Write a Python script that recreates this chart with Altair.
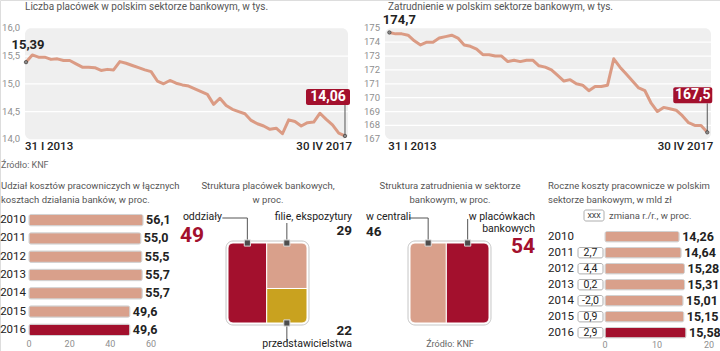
import altair as alt
import pandas as pd

# ---------------- data ----------------
placowki = [15.39, 15.52, 15.48, 15.48, 15.44, 15.45, 15.42, 15.42, 15.36, 15.30,
            15.30, 15.29, 15.24, 15.26, 15.25, 15.40, 15.37, 15.33, 15.29, 15.25,
            15.22, 15.05, 15.00, 15.06, 15.01, 14.98, 14.96, 14.91, 14.86, 14.81,
            14.63, 14.74, 14.61, 14.54, 14.50, 14.46, 14.34, 14.28, 14.24, 14.18,
            14.20, 14.10, 14.35, 14.32, 14.24, 14.30, 14.31, 14.47, 14.36, 14.26,
            14.11, 14.06]
zatrudnienie = [174.7, 174.6, 174.6, 174.5, 174.1, 173.8, 174.0, 174.0, 174.3, 174.4,
                174.5, 174.3, 173.8, 173.7, 173.5, 173.1, 173.1, 173.0, 173.0, 172.6,
                172.7, 172.6, 172.7, 172.7, 172.3, 172.2, 172.0, 171.6, 171.2, 171.3,
                171.0, 170.9, 170.5, 170.8, 170.8, 170.9, 172.8, 172.2, 171.7, 171.2,
                170.7, 170.5, 169.6, 169.0, 169.3, 169.2, 169.1, 168.7, 168.2, 168.0,
                168.0, 167.5]
okres = ["31 I 2013", "30 IV 2017"]
ticks_plac = [14.0, 14.5, 15.0, 15.5, 16.0]
ticks_zatr = [167, 168, 169, 170, 171, 172, 173, 174, 175]

lata = ["2010", "2011", "2012", "2013", "2014", "2015", "2016"]
udzial = [56.1, 55.0, 55.5, 55.7, 55.7, 49.6, 49.6]
koszty = [14.26, 14.64, 15.28, 15.31, 15.01, 15.15, 15.58]
zmiana = [None, 2.7, 4.4, 0.2, -2.0, 0.9, 2.9]
ticks_udzial = [0, 20, 40, 60]
ticks_koszty = [0, 10, 20]

plac_nazwy = ["oddziały", "filie, ekspozytury", "przedstawicielstwa"]
plac_udzial = [49, 29, 22]
zatr_nazwy = ["w centrali", "w placówkach", "bankowych"]
zatr_udzial = [46, 54]

tytuly = {
    "tl": "Liczba placówek w polskim sektorze bankowym, w tys.",
    "tr": "Zatrudnienie w polskim sektorze bankowym, w tys.",
    "bl": "Udział kosztów pracowniczych w łącznych\nkosztach działania banków, w proc.",
    "p2": "Struktura placówek bankowych,\nw proc.",
    "p3": "Struktura zatrudnienia w sektorze\nbankowym, w proc.",
    "br": "Roczne koszty pracownicze w polskim\nsektorze bankowym, w mld zł",
}
zrodlo = "Źródło: KNF"
legenda = ["XXX", "zmiana r./r., w proc."]

# ---------------- style ----------------
FONT = "Roboto"
LINE = "#DB9B84"
PINK = "#D9A08B"
RED = "#A3102D"
YELLOW = "#C9A21F"
BG = "#EFEFEF"
DARK = "#222222"
GREY = "#8f8f8f"
TITLE = "#555555"


def fmt(v, d):
    return f"{v:.{d}f}".replace(".", ",")


# ---------------- line panels ----------------
def line_panel(values, ticks, dec, xdom, xr, yr, start_off, end_box, end_txt, lab_dx):
    n = len(values)
    df = pd.DataFrame({"i": list(range(n)), "v": values})
    xs = alt.Scale(domain=xdom, range=xr, zero=False, nice=False)
    ys = alt.Scale(domain=[ticks[0], ticks[-1]], range=yr, zero=False, nice=False)

    def X(f):
        return alt.X(f, type="quantitative", scale=xs, axis=None)

    def Y(f):
        return alt.Y(f, type="quantitative", scale=ys, axis=None)

    bg = alt.Chart(pd.DataFrame({"x0": [xdom[0]], "x1": [xdom[1]],
                                 "y0": [ticks[0]], "y1": [ticks[-1]]})).mark_rect(
        color=BG, cornerRadius=6).encode(x=X("x0"), x2="x1", y=Y("y0"), y2="y1")
    tdf = pd.DataFrame({"t": ticks, "lab": [fmt(t, dec) for t in ticks],
                        "x0": xdom[0], "x1": xdom[1]})
    grid = alt.Chart(tdf.iloc[1:-1]).mark_rule(color="white", strokeWidth=1.2).encode(
        x=X("x0"), x2="x1", y=Y("t"))
    tlab = alt.Chart(tdf).mark_text(align="right", baseline="middle", fontSize=9.5,
                                    color=GREY, font=FONT).encode(
        x=alt.value(xr[0] - 5), y=Y("t"), text="lab")
    line = alt.Chart(df).mark_line(color=LINE, strokeWidth=3, strokeJoin="round",
                                   strokeCap="round").encode(x=X("i"), y=Y("v"))
    first = df.iloc[[0]].assign(lab=[fmt(values[0], 2 if dec == 1 else 1)], d=[okres[0]])
    last = df.iloc[[-1]].assign(lab=[fmt(values[-1], 2 if dec == 1 else 1)], d=[okres[1]])
    dots = alt.Chart(pd.concat([first, last])).mark_circle(
        size=12, color="#8a8a8a", stroke="#333", strokeWidth=0.6, opacity=1).encode(
        x=X("i"), y=Y("v"))
    slab = alt.Chart(first).mark_text(fontWeight="bold", fontSize=13, color=DARK,
                                      font=FONT, dx=start_off[0], dy=start_off[1]).encode(
        x=X("i"), y=Y("v"), text="lab")
    box = alt.Chart(last).mark_rect(color=RED, cornerRadius=2, xOffset=end_box[0],
                                    x2Offset=end_box[1], yOffset=end_box[2],
                                    y2Offset=end_box[3]).encode(
        x=X("i"), x2="i", y=Y("v"), y2="v")
    lead = alt.Chart(last).mark_rule(color="#555", strokeWidth=1,
                                     y2Offset=end_box[3]).encode(
        x=X("i"), y=Y("v"), y2="v")
    elab = alt.Chart(last).mark_text(fontWeight="bold", fontSize=14, color="white",
                                     font=FONT, dx=end_txt[0], dy=end_txt[1]).encode(
        x=X("i"), y=Y("v"), text="lab")
    d1 = alt.Chart(first).mark_text(align="left", fontSize=11.5, fontWeight=500,
                                    color=DARK, font=FONT, dx=-1).encode(
        x=X("i"), y=alt.value(147), text="d")
    d2 = alt.Chart(last).mark_text(align="right", fontSize=11.5, fontWeight=500,
                                   color=DARK, font=FONT, dx=lab_dx).encode(
        x=X("i"), y=alt.value(147), text="d")
    return alt.layer(bg, grid, tlab, line, lead, dots, slab, box, elab, d1, d2)


tl = line_panel(placowki, ticks_plac, 1, [-0.16, 51.48], [25, 348], [139.3, 28.3],
                (2, -17), (-39, 5, -47, -31), (-17, -39), 7)
tr = line_panel(zatrudnienie, ticks_zatr, 0, [-0.7, 51.6], [385, 711], [139.3, 28.3],
                (10, -12), (-34, 5, -45, -29), (-14.5, -37), 6)


# ---------------- bar panels ----------------
def bar_panel(values, dec, ticks, xdom, xr, yr, pin, pout, year_x, year_align, tick_y):
    xs = alt.Scale(domain=xdom, range=xr, nice=False)
    ys = alt.Scale(domain=lata, range=yr, paddingInner=pin, paddingOuter=pout)
    df = pd.DataFrame({"rok": lata, "v": values,
                       "lab": [fmt(v, dec) for v in values],
                       "kol": [PINK] * (len(values) - 1) + [RED]})
    X = alt.X("v:Q", scale=xs, axis=None)
    Y = alt.Y("rok:N", scale=ys, axis=None)
    bars = alt.Chart(df).mark_bar(cornerRadius=2, stroke="#d2d2d2", strokeWidth=1).encode(
        x=X, y=Y, color=alt.Color("kol:N", scale=None))
    vals = alt.Chart(df).mark_text(align="left", dx=3, fontWeight="bold", fontSize=12.5,
                                   color=DARK, font=FONT).encode(x=X, y=Y, text="lab")
    yrs = alt.Chart(df).mark_text(align=year_align, fontSize=11.5, color=DARK,
                                  font=FONT).encode(x=alt.value(year_x), y=Y, text="rok")
    tdf = pd.DataFrame({"t": ticks, "lab": [str(t) for t in ticks]})
    tl_ = alt.Chart(tdf).mark_text(fontSize=9, color=GREY, font=FONT).encode(
        x=alt.X("t:Q", scale=xs, axis=None), y=alt.value(tick_y), text="lab")
    return [bars, vals, yrs, tl_], Y, df


bl_layers, _, _ = bar_panel(udzial, 1, ticks_udzial, [0, 60], [29, 151], [211, 339],
                            0.38, 0.19, 26, "right", 344)
bl = alt.layer(*bl_layers)

br_layers, Ybr, dfbr = bar_panel(koszty, 2, ticks_koszty, [0, 20], [605, 709],
                                 [228.7, 340.7], 0.35, 0.175, 548, "left", 345)
zdf = pd.DataFrame({"rok": lata, "z": zmiana}).dropna()
zdf["lab"] = [fmt(z, 1) for z in zdf["z"]]
zbox = alt.Chart(zdf).mark_rect(fill="white", stroke="#9a9a9a", strokeWidth=0.8,
                                cornerRadius=2).encode(
    x=alt.value(578), x2=alt.value(603), y=Ybr)
ztxt = alt.Chart(zdf).mark_text(fontSize=10.5, color=DARK, font=FONT).encode(
    x=alt.value(590.5), y=Ybr, text="lab")
br = alt.layer(*br_layers, zbox, ztxt)


# ---------------- structure panels ----------------
def frame_scales(xr, yr):
    xs = alt.Scale(domain=[0, 100], range=xr, nice=False, zero=False)
    ys = alt.Scale(domain=[0, 100], range=yr, nice=False, zero=False)
    return xs, ys


def rect_layer(r, xs, ys, color, corners):
    df = pd.DataFrame([r])
    return alt.Chart(df).mark_rect(color=color, stroke="white", strokeWidth=1,
                                   **corners).encode(
        x=alt.X("x0:Q", scale=xs, axis=None), x2="x1",
        y=alt.Y("y0:Q", scale=ys, axis=None), y2="y1")


def frame_layer(xs, ys):
    df = pd.DataFrame({"x0": [-2.5], "x1": [102.5], "y0": [-2.5], "y1": [102.5]})
    return alt.Chart(df).mark_rect(fill="white", stroke="#c6c6c6", strokeWidth=1,
                                   cornerRadius=7).encode(
        x=alt.X("x0:Q", scale=xs, axis=None), x2="x1",
        y=alt.Y("y0:Q", scale=ys, axis=None), y2="y1")


def markers(pts, xs, ys):
    df = pd.DataFrame(pts, columns=["cx", "cy"])
    return alt.Chart(df).mark_square(size=38, color="#4d4d4d", stroke="#dedede",
                                     strokeWidth=1, opacity=1).encode(
        x=alt.X("cx:Q", scale=xs, axis=None), y=alt.Y("cy:Q", scale=ys, axis=None))


def leader(pt, xs, ys, up, left=0):
    df = pd.DataFrame({"cx": [pt[0]], "cy": [pt[1]]})
    X = alt.X("cx:Q", scale=xs, axis=None)
    Y = alt.Y("cy:Q", scale=ys, axis=None)
    layers = [alt.Chart(df).mark_rule(color="#555", strokeWidth=1, y2Offset=up).encode(
        x=X, y=Y, y2="cy")]
    if left:
        layers.append(alt.Chart(df).mark_rule(color="#555", strokeWidth=1, x2Offset=left,
                                              yOffset=up, y2Offset=up).encode(
            x=X, x2="cx", y=Y, y2="cy"))
    return layers


# panel 2: placówki
xs2, ys2 = frame_scales([228, 307], [243, 323])
a = plac_udzial[0]
split = plac_udzial[1] / (plac_udzial[1] + plac_udzial[2]) * 100
r_odd = {"x0": 0, "x1": a, "y0": 0, "y1": 100}
r_fil = {"x0": a, "x1": 100, "y0": 0, "y1": split}
r_prz = {"x0": a, "x1": 100, "y0": split, "y1": 100}
c_odd = (a / 2, 0)
c_fil = ((a + 100) / 2, 0)
c_prz = ((a + 100) / 2, 100)
p2 = alt.layer(
    frame_layer(xs2, ys2),
    rect_layer(r_odd, xs2, ys2, RED, {"cornerRadiusTopLeft": 5, "cornerRadiusBottomLeft": 5}),
    rect_layer(r_fil, xs2, ys2, PINK, {"cornerRadiusTopRight": 5}),
    rect_layer(r_prz, xs2, ys2, YELLOW, {"cornerRadiusBottomRight": 5}),
    *leader(c_odd, xs2, ys2, -25, -25),
    *leader(c_fil, xs2, ys2, -20),
    *leader(c_prz, xs2, ys2, 18),
    markers([c_odd, c_fil, c_prz], xs2, ys2),
)

# panel 3: zatrudnienie
xs3, ys3 = frame_scales([410, 489], [243, 323])
b = zatr_udzial[0]
r_cen = {"x0": 0, "x1": b, "y0": 0, "y1": 100}
r_pla = {"x0": b, "x1": 100, "y0": 0, "y1": 100}
c_cen = (b / 2, 0)
c_pla = ((b + 100) / 2, 0)
p3 = alt.layer(
    frame_layer(xs3, ys3),
    rect_layer(r_cen, xs3, ys3, PINK, {"cornerRadiusTopLeft": 5, "cornerRadiusBottomLeft": 5}),
    rect_layer(r_pla, xs3, ys3, RED, {"cornerRadiusTopRight": 5, "cornerRadiusBottomRight": 5}),
    *leader(c_cen, xs3, ys3, -25, -19),
    *leader(c_pla, xs3, ys3, -24),
    markers([c_cen, c_pla], xs3, ys3),
)


# ---------------- free texts ----------------
def txt(s, x, y, size=11, color=DARK, weight="normal", align="left", lh=14):
    return alt.Chart(pd.DataFrame({"t": [s]})).mark_text(
        align=align, baseline="middle", fontSize=size, color=color, fontWeight=weight,
        font=FONT, lineBreak="\n", lineHeight=lh).encode(
        x=alt.value(x), y=alt.value(y), text="t")


texts = [
    txt(tytuly["tl"], 25, 7, 10, TITLE),
    txt(tytuly["tr"], 388, 7, 10, TITLE),
    txt(zrodlo, 1, 165, 9, "#666"),
    txt(tytuly["bl"], 1, 186, 9.5, TITLE),
    txt(tytuly["p2"], 268, 186, 9.5, TITLE, align="center"),
    txt(tytuly["p3"], 450, 186, 9.5, TITLE, align="center"),
    txt(tytuly["br"], 548, 186, 9.5, TITLE),
    # panel 2 labels
    txt(plac_nazwy[0], 222, 217, 10.5, DARK, align="right"),
    txt(str(plac_udzial[0]), 180, 236, 21, RED, "bold"),
    txt(plac_nazwy[1], 352, 217, 10.5, DARK, align="right"),
    txt(str(plac_udzial[1]), 352, 231, 13.5, DARK, "bold", align="right"),
    txt(str(plac_udzial[2]), 352, 331, 13.5, DARK, "bold", align="right"),
    txt(plac_nazwy[2], 352, 344, 10.5, DARK, align="right"),
    # panel 3 labels
    txt(zatr_nazwy[0], 366, 217, 10.5, DARK),
    txt(str(zatr_udzial[0]), 366, 232, 13.5, DARK, "bold"),
    txt(zatr_nazwy[1], 535, 217, 10.5, DARK, align="right"),
    txt(zatr_nazwy[2], 535, 228.5, 10.5, DARK, align="right"),
    txt(str(zatr_udzial[1]), 535, 247, 21, RED, "bold", align="right"),
    txt(zrodlo, 450, 344, 9, "#666", align="center"),
]

legend_box = alt.Chart(pd.DataFrame({"t": [legenda[0]]})).mark_rect(
    fill="white", stroke="#9a9a9a", strokeWidth=0.8, cornerRadius=2).encode(
    x=alt.value(584), x2=alt.value(604), y=alt.value(210), y2=alt.value(221))
texts += [legend_box,
          txt(legenda[0], 594, 215.5, 7, DARK, align="center"),
          txt(legenda[1], 609, 215.5, 9.5, TITLE)]

chart = alt.layer(tl, tr, bl, p2, p3, br, *texts).resolve_scale(
    x="independent", y="independent"
).properties(
    width=720, height=351, padding=0,
    autosize=alt.AutoSizeParams(type="none"),
).configure_view(stroke=None).configure(background="white")

chart.save("out.html", embed_options={"renderer": "svg", "actions": False})
